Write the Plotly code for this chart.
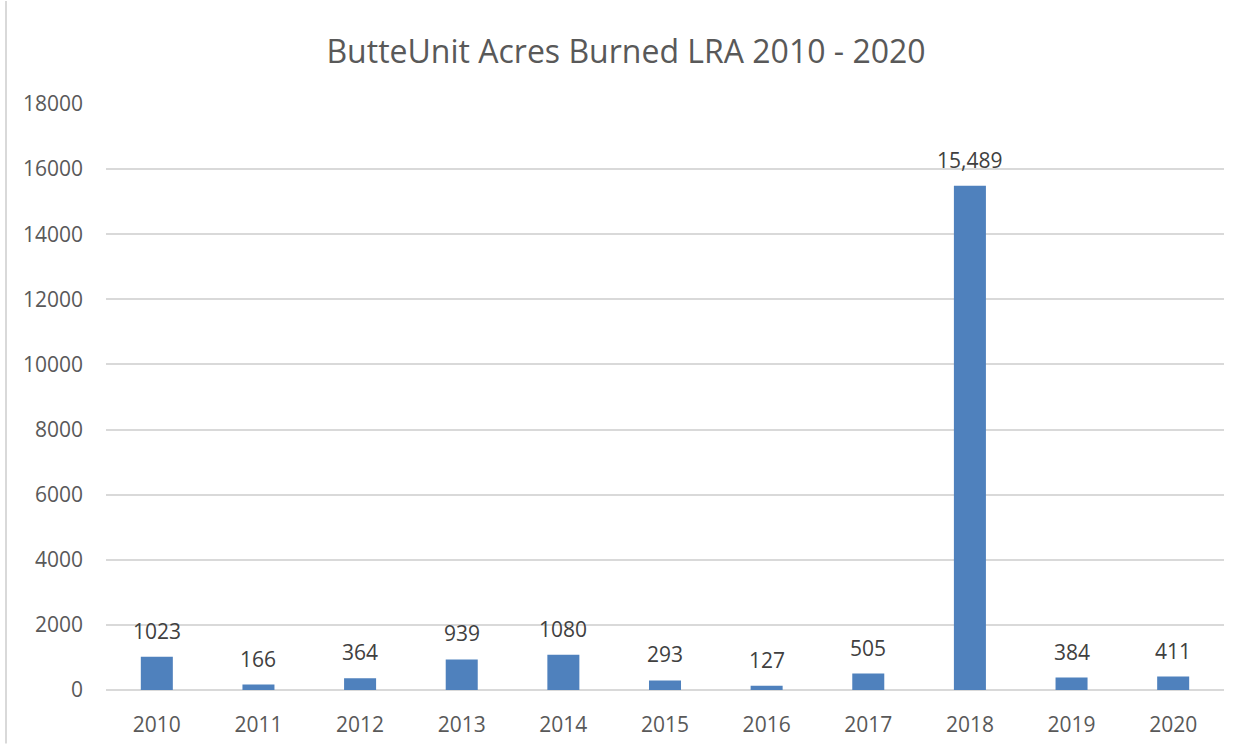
import plotly.graph_objects as go

years = ["2010", "2011", "2012", "2013", "2014", "2015", "2016", "2017", "2018", "2019", "2020"]
acres = [1023, 166, 364, 939, 1080, 293, 127, 505, 15489, 384, 411]
labels = ["1023", "166", "364", "939", "1080", "293", "127", "505", "15,489", "384", "411"]

W, H = 1252, 750
L, R, T, B = 106, 28, 104, 54
pw, ph = W - L - R, H - T - B
FONT = "Open Sans, Liberation Sans, sans-serif"

fig = go.Figure(go.Bar(
    x=years, y=acres,
    marker=dict(color="#4F81BD", line=dict(width=0)),
    hoverinfo="x+y",
))

# category axis: annotations placed by category index
annotations = [
    dict(x=i, y=v, text=lb, xref="x", yref="y", showarrow=False,
         yanchor="bottom", xanchor="center", yshift=10,
         font=dict(size=21, color="#404040", family=FONT))
    for i, (v, lb) in enumerate(zip(acres, labels))
]

fig.update_layout(
    width=W, height=H,
    margin=dict(l=L, r=R, t=T, b=B),
    paper_bgcolor="white", plot_bgcolor="white",
    bargap=0.685,
    showlegend=False,
    title=dict(text="ButteUnit Acres Burned LRA 2010 - 2020", x=0.5, xanchor="center",
               y=1 - 52 / H, yanchor="middle",
               font=dict(size=32, color="#595959", family=FONT)),
    font=dict(family=FONT),
    xaxis=dict(type="category", range=[-0.5, len(years) - 0.5],
               showgrid=False, showline=False, ticks="",
               tickfont=dict(size=21, color="#595959"), ticklabelstandoff=20),
    yaxis=dict(range=[0, 18000], dtick=2000, showgrid=True, gridcolor="#D9D9D9", gridwidth=1.5,
               zeroline=True, zerolinecolor="#D9D9D9", zerolinewidth=1.5,
               showline=False, ticks="", ticklen=0,
               tickfont=dict(size=21, color="#595959"), tickformat="d",
               ticklabelstandoff=22),
    annotations=annotations,
    shapes=[dict(type="line", xref="paper", yref="paper",
                 x0=(6 - L) / pw, x1=(6 - L) / pw,
                 y0=(T + ph - H) / ph, y1=(T + ph) / ph,
                 line=dict(color="#D9D9D9", width=2))],
)

fig.write_html("out.html", config={"displayModeBar": False},
               post_script="document.body.style.margin='0';")
